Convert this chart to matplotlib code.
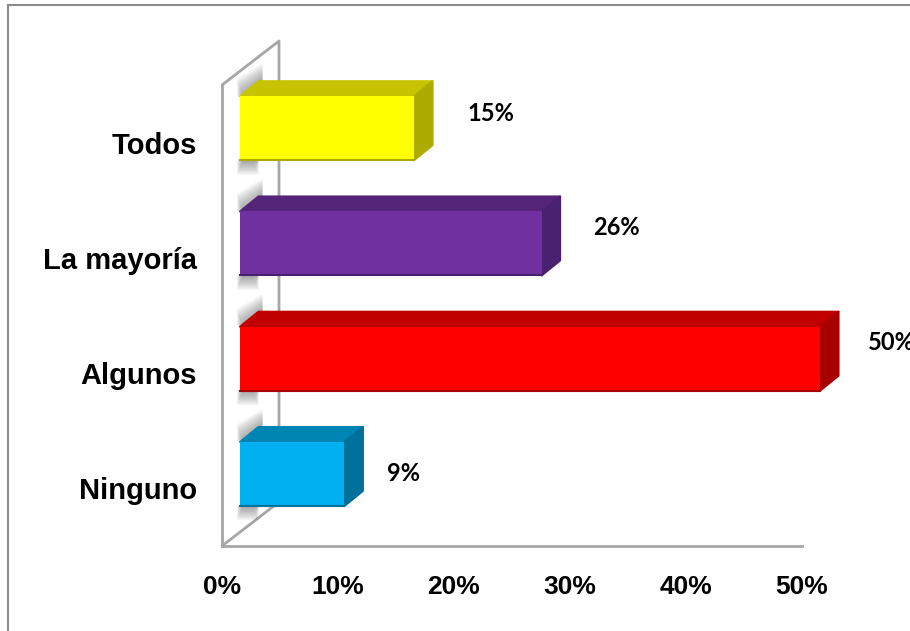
import matplotlib
matplotlib.use("Agg")
import matplotlib.pyplot as plt
from matplotlib.lines import Line2D
from matplotlib.patches import Polygon

# Chart data
categories = ["Ninguno", "Algunos", "La mayoría", "Todos"]
values = [9, 50, 26, 15]
x_ticks = [0, 10, 20, 30, 40, 50]

front_colors = ["#00B0F0", "#FF0000", "#7030A0", "#FFFF00"]
top_colors = ["#0084B4", "#C00000", "#54237A", "#C8C300"]
side_colors = ["#00719B", "#A80000", "#4A2070", "#ADAA00"]

W, H = 910, 631
LEFT, RIGHT, BOTTOM, TOP = 222, 802, 546, 85  # plot box, in pixels

fig = plt.figure(figsize=(W / 100, H / 100), dpi=100)
ax = fig.add_axes([LEFT / W, 1 - BOTTOM / H, (RIGHT - LEFT) / W, (BOTTOM - TOP) / H])
ax.set_xlim(0, 50)
ax.set_ylim(-0.5, 3.5)
ax.patch.set_alpha(0)

# pixels to data units
px = 50 / (RIGHT - LEFT)
py = 4 / (BOTTOM - TOP)


def face(points, color, z, alpha=1.0):
    ax.add_patch(Polygon(points, closed=True, facecolor=color, edgecolor=color if alpha == 1.0 else "none",
                         linewidth=1.5, joinstyle="round", alpha=alpha, zorder=z, clip_on=False))


# side wall of the 3d box
wall_x, wall_y = 57 * px, 44 * py
wall = dict(color="#A6A6A6", linewidth=2, clip_on=False, zorder=1, solid_capstyle="round")
ax.plot([0, wall_x, wall_x], [3.5, 3.5 + wall_y, -0.5 + wall_y], **wall)
ax.plot([0, wall_x], [-0.5, -0.5 + wall_y], **wall)

bar_x = 18 * px
bar_y = 14.4 * py
bar_h = 64 * py
depth_x, depth_y = 18.5 * px, 15 * py

for i, value in enumerate(values):
    y0 = i + bar_y - bar_h / 2
    y1 = y0 + bar_h
    x0 = bar_x
    x1 = bar_x + value

    # soft shadow of the bar on the wall, narrower and darker towards the bar
    for k in range(1, 13):
        up = k * 1.5 * py
        inset = (12 - k) * 0.5 * px
        face([(x0 - 3 * px + inset, y1), (x0 + depth_x + 4 * px, y1 + depth_y),
              (x0 + depth_x + 4 * px, y1 + depth_y + up), (x0 - 3 * px + inset, y1 + up)],
             "#505050", 2, alpha=0.05)
        down = k * 1.2 * py
        face([(x0 - 3 * px + inset, y0 - down), (x0 + depth_x - inset, y0 - down), (x0 + depth_x, y0),
              (x0 - 3 * px + inset, y0)], "#505050", 2, alpha=0.05)

    face([(x0, y1), (x0 + depth_x, y1 + depth_y), (x1 + depth_x, y1 + depth_y), (x1, y1)], top_colors[i], 3)
    face([(x1, y0), (x1 + depth_x, y0 + depth_y), (x1 + depth_x, y1 + depth_y), (x1, y1)], side_colors[i], 3)
    ax.barh(i + bar_y, value, height=bar_h, left=x0, color=front_colors[i], zorder=4, clip_on=False)
    ax.plot([x0, x1], [y0, y0], color=side_colors[i], linewidth=1.5, zorder=5, clip_on=False)

# value labels, offsets in pixels from the end of the front face
label_dx = [43, 48, 52, 53]
label_dy = [0, 16, 16, 15]
for i, value in enumerate(values):
    ax.annotate("%d%%" % value, xy=(bar_x + value, i + bar_y), xytext=(label_dx[i] * 0.72, label_dy[i] * 0.72),
                textcoords="offset points", ha="left", va="center", family="Lato", fontweight="bold",
                fontsize=17, color="black", zorder=6, annotation_clip=False)

ax.set_xticks(x_ticks)
ax.set_xticklabels(["%d%%" % t for t in x_ticks])
ax.set_yticks(range(len(categories)))
ax.set_yticklabels(categories)
ax.tick_params(axis="both", length=0)
ax.tick_params(axis="x", pad=21, labelsize=19)
ax.tick_params(axis="y", pad=18, labelsize=21)
for label in ax.get_xticklabels() + ax.get_yticklabels():
    label.set_family("Liberation Sans")
    label.set_fontweight("bold")

for name in ["top", "right"]:
    ax.spines[name].set_visible(False)
for name in ["left", "bottom"]:
    ax.spines[name].set_color("#A6A6A6")
    ax.spines[name].set_linewidth(2)
    ax.spines[name].set_zorder(1)

# thin frame around the chart area
fig.add_artist(Line2D([8 / W, 8 / W], [0, 1 - 5 / H], color="#8C8C8C", linewidth=1.5))
fig.add_artist(Line2D([8 / W, 1], [1 - 5 / H, 1 - 5 / H], color="#8C8C8C", linewidth=1.5))

fig.savefig("out.png", dpi=100)
